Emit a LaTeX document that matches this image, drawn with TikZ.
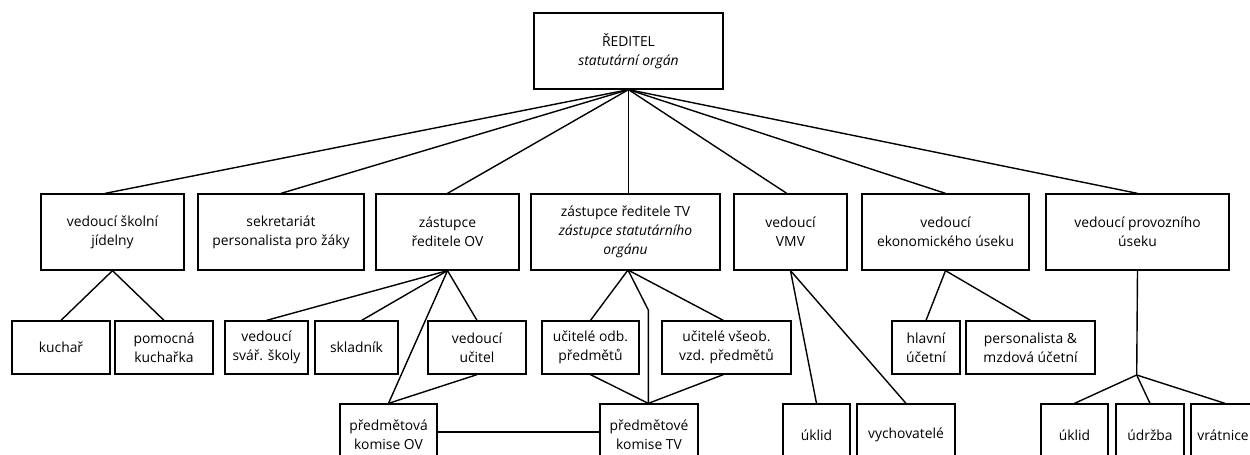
\documentclass[tikz,border=0pt]{standalone}
\usepackage{fontspec}
\setmainfont{Open Sans}
\begin{document}
\begin{tikzpicture}[x=0.75pt,y=-0.75pt,
  font=\fontsize{10.4}{14.2}\selectfont,
  box/.style={draw,line width=0.95pt,align=center,inner sep=0pt},
  sz/.style 2 args={minimum width=#1*0.75pt,minimum height=#2*0.75pt},
  ln/.style={line width=1.05pt}]
\useasboundingbox (0,0) rectangle (1250,454);
% top
\node[box,sz={189}{76}] (dir) at (628.5,51) {ŘEDITEL\\\textit{statutární orgán}};
% level 2
\node[box,sz={143}{76}] (jid) at (112.5,232) {vedoucí školní\\jídelny};
\node[box,sz={166}{76}] (sek) at (281,232) {sekretariát\\personalista pro žáky};
\node[box,sz={143}{76}] (ov) at (447.5,232) {zástupce\\ředitele OV};
\node[box,sz={189}{76}] (tv) at (625.5,232) {zástupce ředitele TV\\\textit{zástupce statutárního}\\\textit{orgánu}};
\node[box,sz={113}{76}] (vmv) at (790.5,232) {vedoucí\\VMV};
\node[box,sz={167}{76}] (eko) at (945.5,232) {vedoucí\\ekonomického úseku};
\node[box,sz={183}{76}] (prov) at (1137.5,232) {vedoucí provozního\\úseku};
% level 3
\node[box,sz={98}{53}] (kuch) at (61,347.5) {kuchař};
\node[box,sz={98}{53}] (pom) at (164,347.5) {pomocná\\kuchařka};
\node[box,sz={83}{53}] (svar) at (266.5,347.5) {vedoucí\\svář. školy};
\node[box,sz={83}{53}] (skl) at (356.5,347.5) {skladník};
\node[box,sz={98}{53}] (vu) at (477,347.5) {vedoucí\\učitel};
\node[box,sz={97}{53}] (odb) at (590.5,347.5) {učitelé odb.\\předmětů};
\node[box,sz={129}{53}] (vseob) at (726.5,347.5) {učitelé všeob.\\vzd. předmětů};
\node[box,sz={68}{53}] (hlav) at (926,347.5) {hlavní\\účetní};
\node[box,sz={129}{53}] (pers) at (1030.5,347.5) {personalista \&\\mzdová účetní};
% level 4
\node[box,sz={97}{62}] (kov) at (388.5,435) {předmětová\\komise OV};
\node[box,sz={98}{62}] (ktv) at (649,435) {předmětové\\komise TV};
\node[box,sz={67}{62}] (uk1) at (816.5,435) {úklid};
\node[box,sz={98}{62}] (vych) at (906,435) {vychovatelé};
\node[box,sz={67}{62}] (uk2) at (1074.5,435) {úklid};
\node[box,sz={68}{62}] (udr) at (1150,435) {údržba};
\node[box,sz={80}{62},text width=66*0.75pt,align=center] (vrat) at (1231,435) {\hspace*{-12pt}vrátnice};
% connectors from director
\draw[ln] (dir.south) -- ([xshift=-5.6pt]jid.north);
\draw[ln] (dir.south) -- (sek.north);
\draw[ln] (dir.south) -- (ov.north);
\draw[ln] (dir.south) -- (dir.south |- tv.north);
\draw[ln] (dir.south) -- ([xshift=-2.8pt]vmv.north);
\draw[ln] (dir.south) -- (eko.north);
\draw[ln] (dir.south) -- (prov.north);
% jidelna
\draw[ln] (jid.south) -- (kuch.north);
\draw[ln] (jid.south) -- (pom.north);
% OV
\draw[ln] (ov.south) -- (svar.north);
\draw[ln] (ov.south) -- ([xshift=3.9pt]skl.north);
\draw[ln] (ov.south) -- (vu.north);
\draw[ln] (ov.south) -- (kov.north);
\draw[ln] (vu.south) -- (kov.north);
\draw[ln] (kov.east |- 0,432) -- (ktv.west |- 0,432);
% TV
\coordinate (tvb) at (628,270);
\coordinate (tvk) at (648.3,310);
\draw[ln] (tvb) -- (odb.north);
\draw[ln] (tvb) -- (tvk) -- (tvk |- ktv.north);
\draw[ln] (tvb) -- ([xshift=-2.4pt]vseob.north);
\draw[ln] (odb.south) -- (tvk |- ktv.north);
\draw[ln] ([xshift=-2.4pt]vseob.south) -- (tvk |- ktv.north);
% VMV
\draw[ln] (vmv.south) -- (uk1.north);
\draw[ln] (vmv.south) -- (vych.north);
% eko
\draw[ln] (eko.south) -- (hlav.north);
\draw[ln] (eko.south) -- (pers.north);
% provoz
\coordinate (pj) at (1136.7,375);
\draw[ln] (prov.south) -- (pj);
\draw[ln] (pj) -- (uk2.north);
\draw[ln] (pj) -- (udr.north);
\draw[ln] (pj) -- ([xshift=-4.5pt]vrat.north);
\end{tikzpicture}
\end{document}
